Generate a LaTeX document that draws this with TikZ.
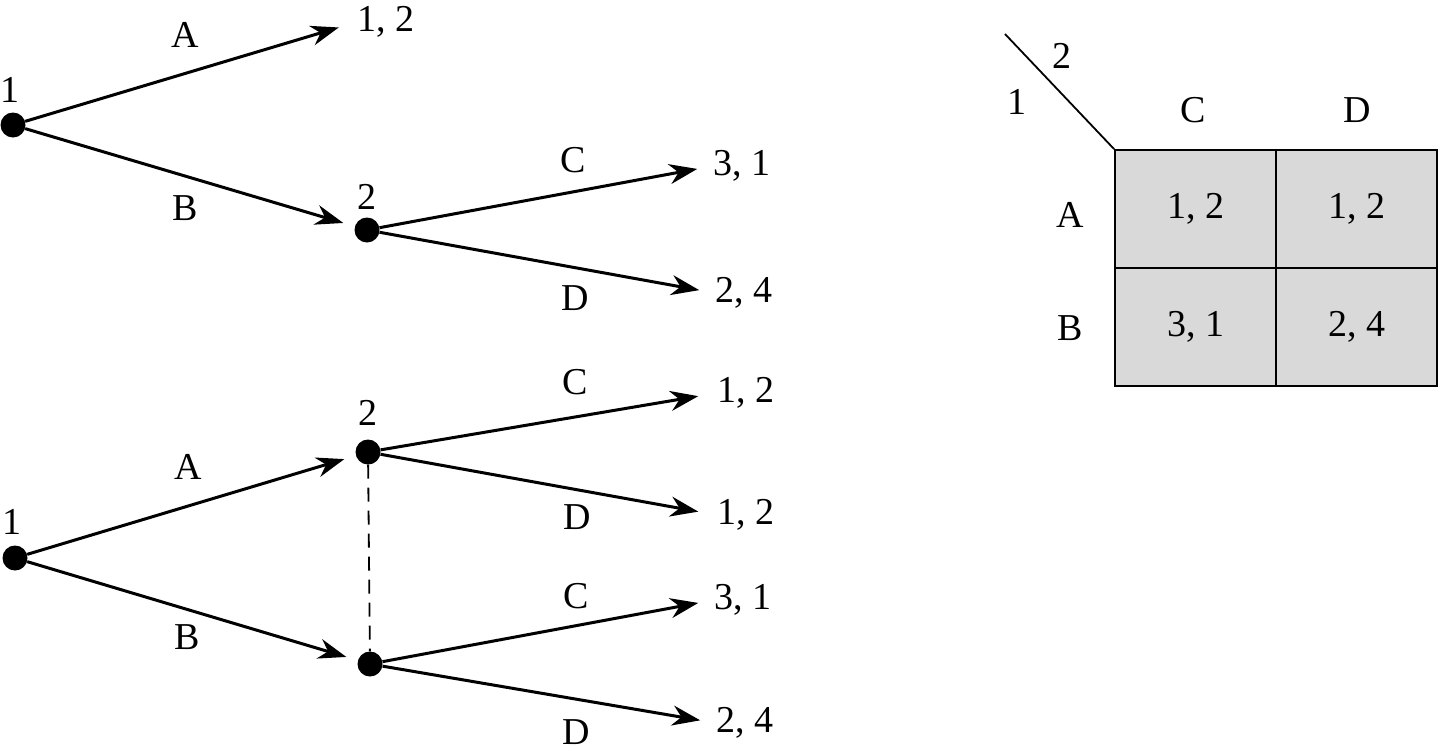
\documentclass[tikz,border=0pt]{standalone}
\usepackage{fontspec}
\setmainfont{Liberation Serif}
\usetikzlibrary{arrows.meta}
\begin{document}
\begin{tikzpicture}[x=1pt,y=-1pt,
  every node/.style={font=\fontsize{38}{44}\selectfont},
  dot/.style={circle,fill=black,inner sep=0pt,minimum size=25pt},
  pay/.style={anchor=west,inner sep=0pt},
  lab/.style={inner sep=0pt},
  move/.style={line width=3pt,-{Stealth[length=28pt,width=20pt,inset=9pt]}},
  cell/.style={draw,line width=1.8pt,fill=black!15,minimum width=161pt,minimum height=118pt,inner sep=0pt},
  thin/.style={line width=1.8pt}]
\useasboundingbox (0,0) rectangle (1440,755);

% ---------- top tree ----------
\node[dot] (t1) at (13,125) {};
\node[lab] (t1l) at (10,90) {1};
\node[dot] (t2) at (367,230) {};
\node[lab] (t2l) at (367,197) {2};
\node[pay] (tpA) at (357,22) {1, 2};
\node[pay] (tpC) at (713,166) {3, 1};
\node[pay] (tpD) at (715,293) {2, 4};
\draw[move,shorten >=19pt] (t1) -- (tpA.west);
\draw[move,shorten >=12pt] (t1) -- (t2);
\draw[move,shorten >=16pt] (t2) -- (tpC.west);
\draw[move,shorten >=16pt] (t2) -- (tpD.west);
\node[lab] (tlA) at (185,35) {A};
\node[lab] (tlB) at (185,208) {B};
\node[lab] (tlC) at (573,160) {C};
\node[lab] (tlD) at (575,298) {D};

% ---------- bottom tree ----------
\node[dot] (b1) at (15,558) {};
\node[lab] (b1l) at (12,522) {1};
\node[dot] (b2) at (368,452) {};
\node[lab] (b2l) at (368,413) {2};
\node[dot] (b3) at (370,664) {};
\node[pay] (bp1) at (717,393) {1, 2};
\node[pay] (bp2) at (717,515) {1, 2};
\node[pay] (bp3) at (714,600) {3, 1};
\node[pay] (bp4) at (716,723) {2, 4};
\draw[move,shorten >=12pt] (b1) -- (b2);
\draw[move,shorten >=12pt] (b1) -- (b3);
\draw[move,shorten >=19pt] (b2) -- (bp1.west);
\draw[move,shorten >=19pt] (b2) -- (bp2.west);
\draw[move,shorten >=16pt] (b3) -- (bp3.west);
\draw[move,shorten >=16pt] (b3) -- (bp4.west);
\draw[thin,dash pattern=on 14pt off 9pt] (b2) -- (b3);
\node[lab] (blA) at (188,467) {A};
\node[lab] (blB) at (187,637) {B};
\node[lab] (blC1) at (575,382) {C};
\node[lab] (blD1) at (577,517) {D};
\node[lab] (blC2) at (576,596) {C};
\node[lab] (blD2) at (576,732) {D};

% ---------- matrix ----------
\node[cell] (m11) at (1195.5,209) {1, 2};
\node[cell] (m12) at (1356.5,209) {1, 2};
\node[cell] (m21) at (1195.5,327) {3, 1};
\node[cell] (m22) at (1356.5,327) {2, 4};
\coordinate (diag) at (1005,34);
\draw[thin] (m11.north west) -- (diag);
\node[lab] (p2) at (1062,56) {2};
\node[lab] (p1) at (1017,102) {1};
\node[lab] (colC) at (1193,110) {C};
\node[lab] (colD) at (1357,110) {D};
\node[lab] (rowA) at (1070,215) {A};
\node[lab] (rowB) at (1070,328) {B};
\end{tikzpicture}
\end{document}
